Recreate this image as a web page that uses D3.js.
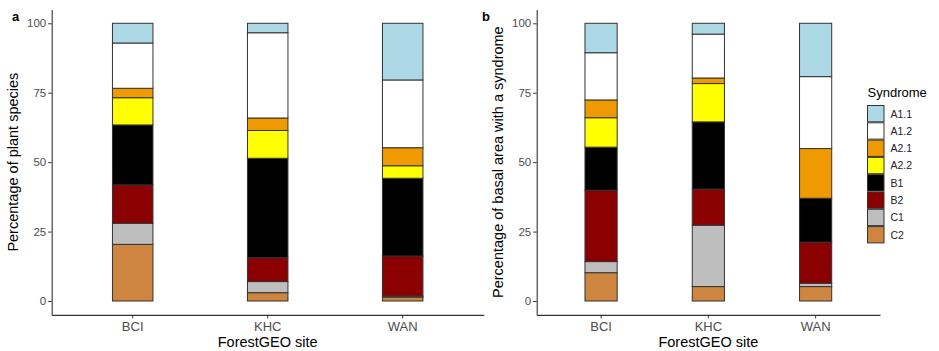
<!DOCTYPE html>
<html><head><meta charset="utf-8">
<script src="https://cdn.jsdelivr.net/npm/d3@7"></script>
<style>body{margin:0;background:#fff}svg{display:block;font-family:"Liberation Sans",Arial,sans-serif}</style>
</head><body><svg id="chart" width="939" height="351"></svg>
<script>
const sites = ["BCI", "KHC", "WAN"];
const syndromes = ["A1.1", "A1.2", "A2.1", "A2.2", "B1", "B2", "C1", "C2"];
const colors = ["#ADD8E6", "#FFFFFF", "#EE9A00", "#FFFF00", "#000000", "#8B0000", "#BEBEBE", "#CD853F"];
const yTicks = [0, 25, 50, 75, 100];
// percentage of plant species (panel a), per site, per syndrome
const speciesBCI = [7.1, 16.3, 3.4, 9.8, 21.6, 13.8, 7.6, 20.4];
const speciesKHC = [3.4, 30.7, 4.5, 10.0, 35.8, 8.6, 4.0, 3.0];
const speciesWAN = [20.4, 24.4, 6.5, 4.5, 28.0, 14.4, 0.4, 1.4];
// percentage of basal area with a syndrome (panel b)
const basalBCI = [10.6, 17.0, 6.4, 10.6, 15.5, 25.7, 4.0, 10.2];
const basalKHC = [3.9, 15.8, 2.0, 13.8, 24.2, 13.0, 22.1, 5.2];
const basalWAN = [19.2, 25.9, 17.9, 0.0, 15.8, 14.8, 1.2, 5.2];

function rows(arrs) {
  return sites.map((s, i) => {
    const r = {site: s};
    syndromes.forEach((k, j) => r[k] = arrs[i][j]);
    return r;
  });
}
const svg = d3.select("#chart");
const color = d3.scaleOrdinal(syndromes, colors);

function panel(data, x0, x1, ytitle, label, labelX) {
  const y = d3.scaleLinear().domain([-5, 105]).range([314.9, 9.4]);
  const x = d3.scaleBand().domain(sites).range([x0, x1]).paddingInner(0.7).paddingOuter(0.45);
  const stack = d3.stack().keys(syndromes.slice().reverse())(data);
  const g = svg.append("g");
  g.selectAll("g.layer").data(stack).join("g")
    .attr("fill", d => color(d.key))
    .selectAll("rect").data(d => d).join("rect")
    .attr("x", d => x(d.data.site))
    .attr("width", x.bandwidth())
    .attr("y", d => y(d[1]))
    .attr("height", d => y(d[0]) - y(d[1]))
    .attr("stroke", "#333").attr("stroke-width", 1);
  const ya = g.append("g").attr("transform", `translate(${x0},0)`)
    .call(d3.axisLeft(y).tickValues(yTicks).tickSize(3.5).tickPadding(2).tickSizeOuter(0));
  ya.select(".domain").attr("stroke", "#333").attr("stroke-width", 1.1);
  ya.selectAll(".tick line").attr("stroke", "#333");
  ya.selectAll(".tick text").attr("fill", "#4D4D4D").style("font-size", "11.5px");
  const xa = g.append("g").attr("transform", `translate(0,314.9)`)
    .call(d3.axisBottom(x).tickSize(3.5).tickPadding(3).tickSizeOuter(0));
  xa.select(".domain").attr("stroke", "#333").attr("stroke-width", 1.1);
  xa.selectAll(".tick line").attr("stroke", "#333");
  xa.selectAll(".tick text").attr("fill", "#4D4D4D").style("font-size", "13px");
  g.append("text").attr("x", (x0 + x1) / 2).attr("y", 347).attr("text-anchor", "middle")
    .style("font-size", "14.5px").text("ForestGEO site");
  g.append("text").attr("transform", `translate(${x0 - 34},${y(50)}) rotate(-90)`)
    .attr("text-anchor", "middle").style("font-size", "14.5px").text(ytitle);
  g.append("text").attr("x", labelX).attr("y", 21).style("font-size", "13px")
    .style("font-weight", "bold").text(label);
}
panel(rows([speciesBCI, speciesKHC, speciesWAN]), 51.7, 483.7, "Percentage of plant species", "a", 12);
panel(rows([basalBCI, basalKHC, basalWAN]), 536.7, 880, "Percentage of basal area with a syndrome", "b", 482);

// legend
const lg = svg.append("g").attr("transform", "translate(867.5,0)");
lg.append("text").attr("x", 0).attr("y", 97).style("font-size", "13px").text("Syndrome");
const item = lg.selectAll("g.item").data(syndromes).join("g")
  .attr("transform", (d, i) => `translate(0,${105.5 + i * 17.3})`);
item.append("rect").attr("width", 16.5).attr("height", 16.3)
  .attr("fill", d => color(d)).attr("stroke", "#333").attr("stroke-width", 1);
item.append("text").attr("x", 23).attr("y", 12).style("font-size", "10.5px").attr("fill", "#222").text(d => d);
</script></body></html>
